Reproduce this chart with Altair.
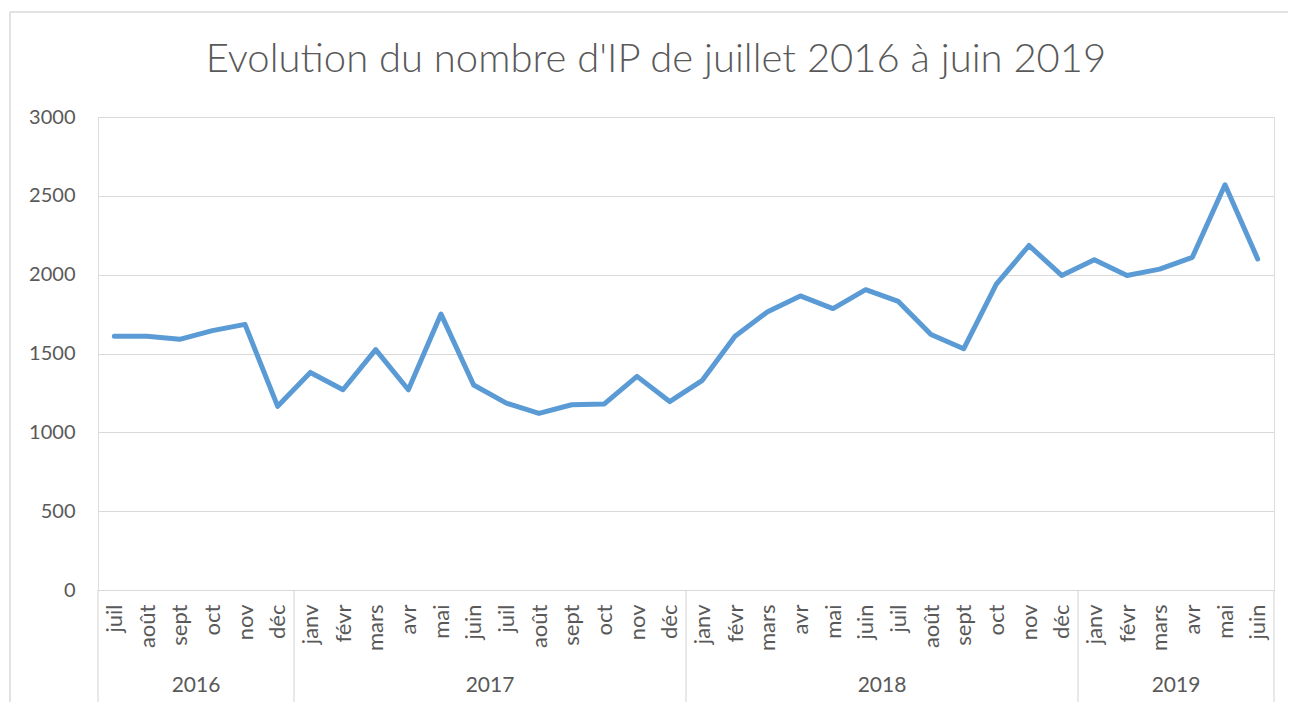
import altair as alt
import pandas as pd

months = ["juil", "août", "sept", "oct", "nov", "déc",
          "janv", "févr", "mars", "avr", "mai", "juin", "juil", "août", "sept", "oct", "nov", "déc",
          "janv", "févr", "mars", "avr", "mai", "juin", "juil", "août", "sept", "oct", "nov", "déc",
          "janv", "févr", "mars", "avr", "mai", "juin"]
values = [1610, 1610, 1590, 1645, 1685, 1165,
          1380, 1270, 1525, 1270, 1750, 1300, 1185, 1120, 1175, 1180, 1355, 1195,
          1330, 1610, 1765, 1865, 1785, 1905, 1830, 1620, 1530, 1940, 2185, 1995,
          2095, 1995, 2035, 2110, 2570, 2100]
years = ["2016", "2017", "2018", "2019"]
year_counts = [6, 12, 12, 6]
title_text = "Evolution du nombre d'IP de juillet 2016 à juin 2019"

FONT = "Lato"
GREY = "#595959"
LINE = "#d9d9d9"

df = pd.DataFrame({"pos": [i + 0.5 for i in range(len(values))],
                   "month": months, "value": values})

bounds = [0]
for c in year_counts:
    bounds.append(bounds[-1] + c)
sep_df = pd.DataFrame({"b": bounds})
year_df = pd.DataFrame({"year": years,
                        "center": [(bounds[i] + bounds[i + 1]) / 2 for i in range(len(years))]})

n = len(values)
W, H = 1176, 473
month_js = "[" + ",".join("'" + m + "'" for m in months) + "]"

xscale = alt.Scale(domain=[0, n], nice=False, zero=False)
x_axis = alt.Axis(values=[i + 0.5 for i in range(n)],
                  labelExpr=month_js + "[floor(datum.value)]",
                  labelAngle=270, labelFont=FONT, labelFontSize=22,
                  labelColor=GREY, labelPadding=14, ticks=False,
                  grid=False, domainColor=LINE, domainWidth=1.2,
                  title=None, labelOverlap=False, labelBound=False,
                  labelFlush=False)

line = alt.Chart(df).mark_line(color="#5B9BD5", strokeWidth=5,
                               strokeCap="round", strokeJoin="round").encode(
    x=alt.X("pos:Q", scale=xscale, axis=x_axis),
    y=alt.Y("value:Q", scale=alt.Scale(domain=[0, 3000], nice=False),
            axis=alt.Axis(values=[0, 500, 1000, 1500, 2000, 2500, 3000],
                          format="d",
                          labelFont=FONT, labelFontSize=20, labelColor=GREY,
                          labelPadding=23, ticks=False, domain=False,
                          gridColor=LINE, gridWidth=1.2, title=None)),
)

seps = alt.Chart(sep_df).mark_rule(color=LINE, strokeWidth=1.2).encode(
    x=alt.X("b:Q", scale=xscale, axis=x_axis),
    y=alt.value(H), y2=alt.value(H + 140))

year_text = alt.Chart(year_df).mark_text(font=FONT, fontSize=21, color=GREY,
                                         baseline="middle").encode(
    x=alt.X("center:Q", scale=xscale, axis=x_axis), y=alt.value(H + 96), text="year:N")

title = alt.Chart(pd.DataFrame({"t": [title_text]})).mark_text(
    font=FONT, fontSize=40, fontWeight=300, color=GREY, baseline="middle",
    align="center").encode(
    x=alt.value(558), y=alt.value(-57), text="t:N")

frame_df = pd.DataFrame({"a": [0]})
frame_left = alt.Chart(frame_df).mark_rule(color=LINE, strokeWidth=1.5).encode(
    x=alt.value(-88), y=alt.value(-105), y2=alt.value(H + 200))
frame_top = alt.Chart(frame_df).mark_rule(color=LINE, strokeWidth=1.5).encode(
    x=alt.value(-88), x2=alt.value(W + 40), y=alt.value(-105))

chart = alt.layer(frame_left, frame_top, line, seps, year_text, title).properties(
    width=W, height=H,
    autosize=alt.AutoSizeParams(type="none"),
    padding={"left": 90, "top": 109, "right": 14, "bottom": 112},
).configure_view(strokeWidth=0).configure(background="white")

chart.save("out.html", embed_options={"renderer": "svg", "actions": False})
